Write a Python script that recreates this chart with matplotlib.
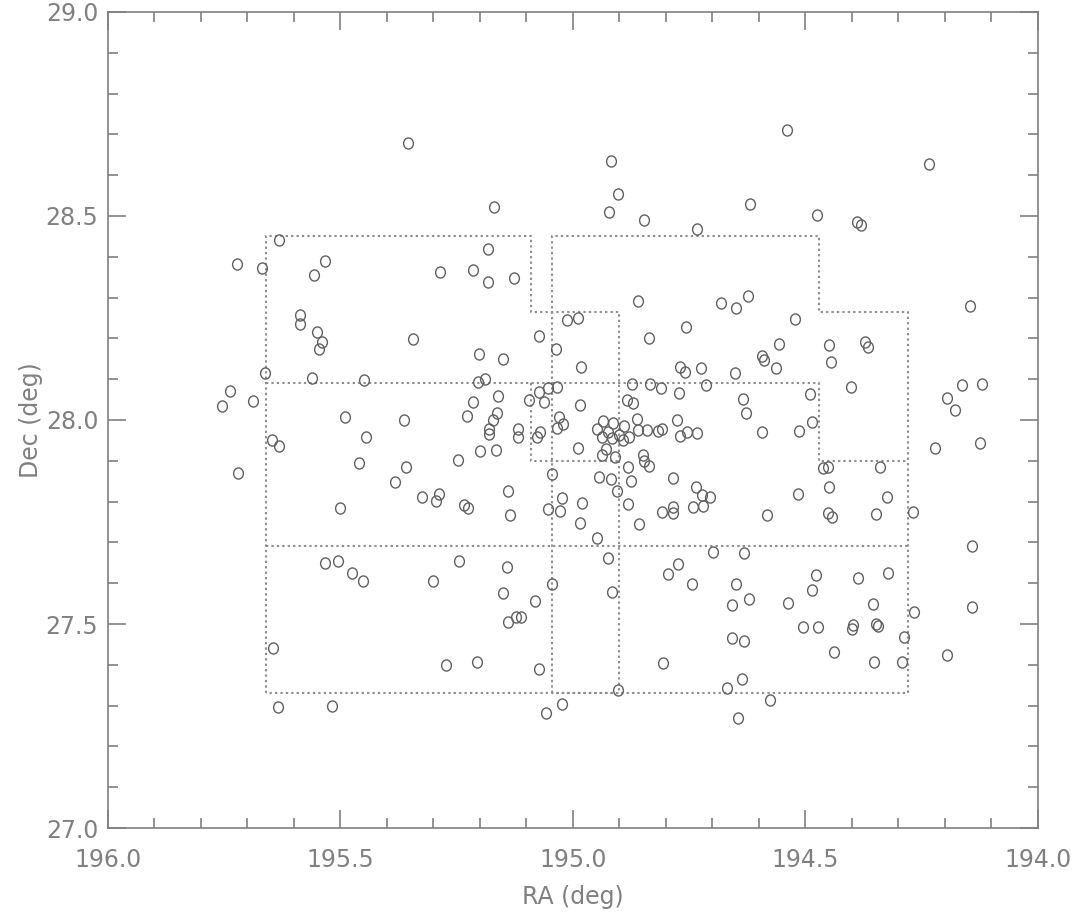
import numpy as np
import matplotlib
matplotlib.use("Agg")
import matplotlib.pyplot as plt
from matplotlib.path import Path
from matplotlib.ticker import MultipleLocator, FormatStrFormatter

# galaxy positions (deg)
ra = [
    195.355, 194.540, 194.234, 194.918, 194.903, 194.923, 195.170, 194.847, 194.619, 194.475,
    194.389, 194.381, 194.733, 195.632, 195.669, 195.533, 195.557, 195.587, 195.587, 195.551,
    195.540, 195.546, 195.344, 195.286, 195.215, 195.183, 195.183, 195.127, 195.202, 195.151,
    195.662, 195.561, 195.450, 195.204, 195.189, 195.073, 195.037, 195.013, 194.989, 194.983,
    194.860, 194.837, 195.723, 195.738, 195.755, 195.688, 195.721, 195.490, 195.364, 195.445,
    195.460, 195.359, 195.383, 195.325, 195.295, 195.288, 195.234, 195.226, 195.140, 195.136,
    195.054, 195.028, 195.501, 195.647, 195.632, 195.161, 195.215, 195.228, 195.164, 195.172,
    195.181, 195.181, 195.118, 195.118, 195.078, 195.071, 195.200, 195.166, 195.247, 195.095,
    195.073, 195.062, 195.054, 195.034, 194.985, 195.030, 195.022, 195.034, 194.989, 194.944,
    194.918, 194.875, 194.882, 194.905, 194.882, 194.981, 195.024, 195.045, 194.936, 194.914,
    194.890, 194.948, 194.925, 194.938, 194.916, 194.901, 194.893, 194.880, 194.862, 194.860,
    194.841, 194.929, 194.938, 194.910, 194.850, 194.847, 194.837, 194.884, 194.871, 194.873,
    194.835, 194.811, 194.772, 194.714, 194.776, 194.809, 194.817, 194.755, 194.733, 194.770,
    194.785, 194.736, 194.723, 194.705, 194.721, 194.742, 194.785, 194.785, 194.809, 194.583,
    194.516, 194.462, 194.452, 194.340, 194.450, 194.325, 194.348, 194.452, 194.443, 194.269,
    194.402, 194.196, 194.490, 194.635, 194.628, 194.594, 194.514, 194.486, 194.770, 194.759,
    194.725, 194.652, 194.594, 194.589, 194.564, 194.682, 194.650, 194.624, 194.523, 194.757,
    194.557, 194.450, 194.372, 194.366, 194.445, 194.164, 194.121, 194.179, 194.222, 194.125,
    194.146, 194.142, 194.142, 194.196, 194.267, 195.533, 195.505, 195.475, 195.452, 195.301,
    195.245, 195.142, 195.151, 195.082, 195.045, 195.140, 195.123, 195.112, 194.925, 194.916,
    194.796, 194.774, 194.744, 195.645, 195.273, 195.207, 195.073, 194.807, 194.903, 195.634,
    195.518, 195.058, 195.024, 194.985, 194.948, 194.858, 194.699, 194.632, 194.650, 194.622,
    194.658, 194.538, 194.486, 194.478, 194.387, 194.323, 194.355, 194.505, 194.473, 194.398,
    194.400, 194.348, 194.344, 194.288, 194.658, 194.632, 194.439, 194.353, 194.293, 194.637,
    194.669, 194.576, 194.645,
]
dec = [
    28.679, 28.711, 28.627, 28.635, 28.554, 28.510, 28.522, 28.490, 28.529, 28.502,
    28.485, 28.478, 28.468, 28.441, 28.373, 28.390, 28.355, 28.257, 28.235, 28.216,
    28.191, 28.174, 28.199, 28.363, 28.368, 28.419, 28.338, 28.348, 28.162, 28.150,
    28.115, 28.103, 28.098, 28.093, 28.100, 28.206, 28.174, 28.245, 28.250, 28.130,
    28.292, 28.201, 28.382, 28.071, 28.034, 28.047, 27.870, 28.007, 28.000, 27.958,
    27.895, 27.885, 27.848, 27.811, 27.801, 27.819, 27.792, 27.784, 27.826, 27.767,
    27.782, 27.777, 27.784, 27.951, 27.936, 28.059, 28.044, 28.010, 28.017, 28.000,
    27.978, 27.966, 27.978, 27.958, 27.958, 27.971, 27.924, 27.926, 27.902, 28.049,
    28.069, 28.044, 28.078, 28.081, 28.037, 28.007, 27.990, 27.980, 27.931, 27.860,
    27.855, 27.851, 27.885, 27.826, 27.794, 27.797, 27.809, 27.868, 27.998, 27.993,
    27.985, 27.978, 27.971, 27.958, 27.956, 27.963, 27.951, 27.958, 28.002, 27.975,
    27.975, 27.929, 27.914, 27.909, 27.914, 27.900, 27.887, 28.049, 28.042, 28.088,
    28.088, 28.078, 28.066, 28.086, 28.000, 27.978, 27.973, 27.971, 27.968, 27.961,
    27.858, 27.836, 27.816, 27.811, 27.789, 27.787, 27.787, 27.772, 27.775, 27.767,
    27.819, 27.882, 27.885, 27.885, 27.836, 27.811, 27.770, 27.772, 27.762, 27.775,
    28.081, 28.054, 28.064, 28.051, 28.017, 27.971, 27.973, 27.995, 28.130, 28.118,
    28.127, 28.115, 28.157, 28.147, 28.127, 28.287, 28.275, 28.304, 28.248, 28.228,
    28.186, 28.184, 28.191, 28.179, 28.142, 28.086, 28.088, 28.025, 27.931, 27.944,
    28.279, 27.691, 27.542, 27.424, 27.529, 27.650, 27.654, 27.625, 27.605, 27.605,
    27.654, 27.640, 27.576, 27.556, 27.598, 27.505, 27.517, 27.517, 27.662, 27.578,
    27.623, 27.647, 27.598, 27.441, 27.399, 27.407, 27.390, 27.404, 27.338, 27.297,
    27.299, 27.282, 27.304, 27.748, 27.711, 27.745, 27.676, 27.674, 27.598, 27.561,
    27.547, 27.551, 27.583, 27.620, 27.613, 27.625, 27.549, 27.493, 27.493, 27.498,
    27.488, 27.500, 27.495, 27.468, 27.466, 27.458, 27.431, 27.407, 27.407, 27.365,
    27.343, 27.314, 27.270,
]

# survey field boundaries, as (ra, dec) polylines
fields = [
    [(195.66, 27.33), (195.66, 28.45), (195.09, 28.45), (195.09, 28.265),
     (194.90, 28.265), (194.90, 27.33), (195.66, 27.33)],
    [(195.045, 27.33), (195.045, 28.45), (194.47, 28.45), (194.47, 28.265),
     (194.28, 28.265), (194.28, 27.33), (195.045, 27.33)],
    [(195.66, 28.09), (194.47, 28.09), (194.47, 27.90), (194.28, 27.90)],
    [(195.09, 28.09), (195.09, 27.90), (194.90, 27.90)],
    [(195.66, 27.69), (194.28, 27.69)],
]

grey = "#808080"
plt.rcParams["font.family"] = ["DejaVu Sans"]

# slightly tall "o" like the plotting-package symbol
circ = Path.unit_circle()
oval = Path(circ.vertices * np.array([0.88, 1.0]), circ.codes)

fig = plt.figure(figsize=(10.8, 9.15), dpi=100)
ax = fig.add_axes([0.1, 0.095, 0.861, 0.892])

for f in fields:
    fx, fy = zip(*f)
    ax.plot(fx, fy, color="#8e8e8e", lw=1.5, ls=(0, (1.1, 1.5)), zorder=1)

ax.plot(ra, dec, ls="none", marker=oval, ms=8, mfc="none",
        mec="#606060", mew=1.0, zorder=2)

ax.set_xlim(196.0, 194.0)
ax.set_ylim(27.0, 29.0)
ax.xaxis.set_major_locator(MultipleLocator(0.5))
ax.xaxis.set_minor_locator(MultipleLocator(0.1))
ax.yaxis.set_major_locator(MultipleLocator(0.5))
ax.yaxis.set_minor_locator(MultipleLocator(0.1))
ax.xaxis.set_major_formatter(FormatStrFormatter("%.1f"))
ax.yaxis.set_major_formatter(FormatStrFormatter("%.1f"))

ax.tick_params(which="both", direction="in", top=True, right=True,
               color=grey, width=1.2, labelcolor=grey, labelsize=17)
ax.tick_params(which="major", length=13)
ax.tick_params(which="minor", length=7)
ax.tick_params(axis="x", pad=14)
ax.tick_params(axis="y", pad=7)

for s in ax.spines.values():
    s.set_color(grey)
    s.set_linewidth(1.2)

ax.set_xlabel("RA (deg)", fontsize=17, color=grey, labelpad=10)
ax.set_ylabel("Dec (deg)", fontsize=17, color=grey, labelpad=2)

fig.savefig("out.png", dpi=100)
